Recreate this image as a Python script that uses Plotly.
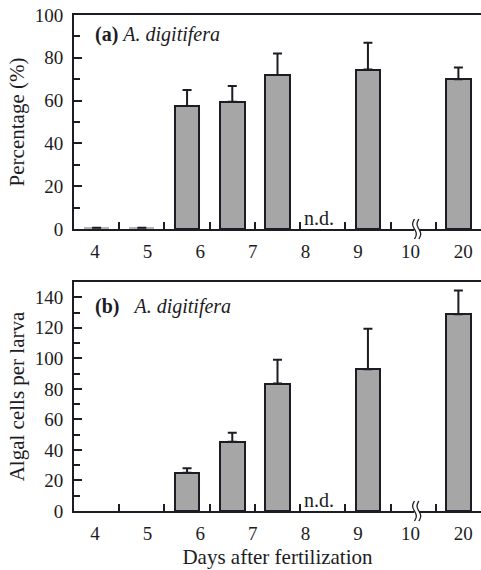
import math
import plotly.graph_objects as go

# ---- data ----
tick_labels = ["4", "5", "6", "7", "8", "9", "10", "20"]
# one value per bar slot (9 slots); None = no bar (n.d. slot / axis break slot)
pct_mean = [0.6, 0.6, 57.5, 59.5, 72.0, None, 74.5, None, 70.0]
pct_err = [0, 0, 7.5, 7.3, 10.0, None, 12.5, None, 5.5]
cells_mean = [None, None, 25.0, 45.4, 83.5, None, 92.9, None, 128.8]
cells_err = [0, 0, 3.0, 5.9, 15.5, None, 26.4, None, 15.7]

FONT = "Liberation Serif"
INK = "#1c1c24"
BAR = "#a6a6a6"
n_slots = len(pct_mean)
slot_x = [i + 0.5 for i in range(n_slots)]
label_x = [0.465 + 1.163 * i for i in range(len(tick_labels))]


def bar_trace(vals, errs, xa, ya):
    lw = []
    cols = []
    for v in vals:
        if v is not None and v < 1:
            lw.append(0)
            cols.append("#b4b4b4")
        else:
            lw.append(2)
            cols.append(BAR)
    return go.Bar(
        x=slot_x, y=vals, width=0.55, xaxis=xa, yaxis=ya,
        marker=dict(color=cols, line=dict(color=INK, width=lw)),
        error_y=dict(type="data", symmetric=False, array=errs,
                     arrayminus=[0] * len(errs), color=INK, thickness=2, width=4.5),
        showlegend=False, hoverinfo="skip",
    )


fig = go.Figure()
fig.add_trace(bar_trace(pct_mean, pct_err, "x", "y"))
fig.add_trace(bar_trace(cells_mean, cells_err, "x2", "y2"))
fig.add_trace(go.Scatter(x=[None], y=[None], xaxis="x3", yaxis="y", showlegend=False))
fig.add_trace(go.Scatter(x=[None], y=[None], xaxis="x4", yaxis="y2", showlegend=False))

dom_a = [1 - 229 / 570, 1 - 15 / 570]
dom_b = [1 - 511 / 570, 1 - 282 / 570]

xbase = dict(range=[0, 9], showgrid=False, zeroline=False, showline=True,
             linecolor=INK, linewidth=2, mirror=True, ticks="inside",
             tickvals=list(range(1, 9)), ticklen=7, tickwidth=1.5, tickcolor=INK,
             showticklabels=False, automargin=False, fixedrange=True)
xlab = dict(range=[0, 9], showgrid=False, zeroline=False, showline=False,
            ticks="", tickvals=label_x, ticktext=tick_labels,
            tickfont=dict(family=FONT, size=19, color=INK),
            ticklabelstandoff=9, automargin=False)
ybase = dict(showgrid=False, zeroline=False, showline=True, linecolor=INK,
             linewidth=2, ticks="inside", ticklen=8, tickwidth=1.5, tickcolor=INK,
             dtick=20, tickfont=dict(family=FONT, size=19, color=INK),
             ticklabelstandoff=5, automargin=False,
             minor=dict(dtick=10, ticks="inside", ticklen=6, tickwidth=1.5, tickcolor=INK),
             title=dict(font=dict(family=FONT, size=21, color=INK), standoff=4))

fig.update_layout(
    width=481, height=570,
    margin=dict(l=74, r=0, t=0, b=0),
    paper_bgcolor="white", plot_bgcolor="white",
    bargap=0,
    xaxis=dict(**xbase, anchor="y"),
    xaxis2=dict(**xbase, anchor="y2"),
    xaxis3=dict(**xlab, overlaying="x", anchor="y"),
    xaxis4=dict(**xlab, overlaying="x2", anchor="y2",
                title=dict(text="Days after fertilization", standoff=6,
                           font=dict(family=FONT, size=21, color=INK))),
    yaxis=dict(**{**ybase, "title": dict(ybase["title"], text="Percentage (%)")},
               domain=dom_a, range=[0, 100], anchor="x"),
    yaxis2=dict(**{**ybase, "title": dict(ybase["title"], text="Algal cells per larva")},
                domain=dom_b, range=[0, 150], anchor="x2"),
)

# panel labels
fig.add_annotation(text="<b>(a)</b> <i>A. digitifera</i>", xref="x domain", yref="y domain",
                   x=0.047, y=0.91, xanchor="left", yanchor="middle", showarrow=False,
                   font=dict(family=FONT, size=20, color=INK))
fig.add_annotation(text="<b>(b)</b>&nbsp;&nbsp;&nbsp;<i>A. digitifera</i>", xref="x2 domain",
                   yref="y2 domain", x=0.046, y=0.892, xanchor="left", yanchor="middle",
                   showarrow=False, font=dict(family=FONT, size=20, color=INK))
for xa, ya in (("x", "y"), ("x2", "y2")):
    fig.add_annotation(text="n.d.", xref=xa, yref=ya, x=5.05, y=0, xanchor="left",
                       yanchor="bottom", yshift=-2, showarrow=False,
                       font=dict(family=FONT, size=20, color=INK))

# axis break symbol: two parallel S-shaped strokes (paper-referenced so not clipped)
def squiggle(off):
    pts = []
    for k in range(25):
        yy = 10 - (20 / 24) * k
        xx = off - 1.8 * math.sin(2 * math.pi * yy / 20)
        pts.append(f"{xx:.2f},{yy:.2f}")
    return "M " + " L ".join(pts)

brk_x = 7.5 / 9
for ybottom in (dom_a[0], dom_b[0]):
    fig.add_shape(type="rect", xref="paper", yref="paper", xsizemode="pixel", ysizemode="pixel",
                  xanchor=brk_x, yanchor=ybottom, x0=1, x1=6, y0=-2.5, y1=2.5,
                  fillcolor="white", line=dict(width=0), layer="above")
    for off in (1.3, 5.7):
        fig.add_shape(type="path", xref="paper", yref="paper", xsizemode="pixel",
                      ysizemode="pixel", xanchor=brk_x, yanchor=ybottom, path=squiggle(off),
                      line=dict(color=INK, width=1.3), layer="above")

fig.write_html("out.html", config={"displayModeBar": False},
               post_script="document.body.style.margin='0';document.body.style.overflow='hidden';")
